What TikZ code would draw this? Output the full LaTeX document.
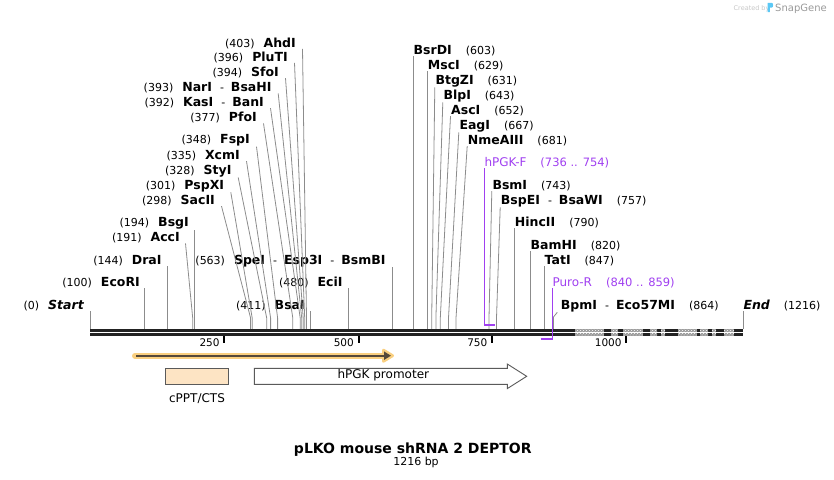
\documentclass[tikz,border=0pt]{standalone}
\usepackage{fontspec}
\setmainfont{DejaVu Sans}
\usetikzlibrary{arrows.meta, patterns, positioning}

\definecolor{leadgray}{HTML}{8C8C8C}
\definecolor{primer}{HTML}{A040F0}
\definecolor{seqblack}{HTML}{222222}
\definecolor{hatchgray}{HTML}{9A9A9A}
\definecolor{orfglow}{HTML}{F9CF80}
\definecolor{orfdark}{HTML}{54483A}
\definecolor{cpptfill}{HTML}{FDE4C4}
\definecolor{featedge}{HTML}{5A5A5A}
\definecolor{sglogo}{HTML}{5BC8F5}

\newcommand{\enzfont}{\fontsize{12.5}{14}\selectfont\bfseries}
\newcommand{\posfont}{\fontsize{11}{13}\selectfont\mdseries}
\newcommand{\cutl}[2]{{\posfont(#1)}\hspace{9pt}{\enzfont #2}}
\newcommand{\cutr}[2]{{\enzfont #1}\hspace{14pt}{\posfont(#2)}}
\newcommand{\andcut}{\hspace{8pt}{\posfont -}\hspace{7pt}}

\begin{document}
\begin{tikzpicture}[x=1pt, y=-1pt,
    cutL/.style={anchor=base east, inner sep=0pt},
    cutR/.style={anchor=base west, inner sep=0pt},
    lead/.style={draw=leadgray, line width=0.8pt},
    primlead/.style={draw=primer, line width=1pt},
    primbar/.style={draw=primer, line width=2pt},
    seq/.style={draw=seqblack, line width=2.6pt},
    tick/.style={draw=black, line width=2pt},
    ticklbl/.style={anchor=base east, inner sep=0pt, font=\fontsize{10.5}{12}\selectfont},
    feat/.style={draw=featedge, line width=0.9pt}]
    \useasboundingbox (0,0) rectangle (834,479);

    % cut sites on the sequence
    \coordinate (sStart) at (90.7,329);
    \coordinate (sEcoRI) at (144.4,329);
    \coordinate (sDraI)  at (167.3,329);
    \coordinate (sAccI)  at (192.7,329);
    \coordinate (sBsgI)  at (194.3,329);
    \coordinate (sSacII) at (250.6,329);
    \coordinate (sPspXI) at (252.2,329);
    \coordinate (sStyI)  at (266.7,329);
    \coordinate (sXcmI)  at (270.6,329);
    \coordinate (sFspI)  at (277.6,329);
    \coordinate (sPfoI)  at (292.8,329);
    \coordinate (sKasI)  at (300.2,329);
    \coordinate (sNarI)  at (301.7,329);
    \coordinate (sSfoI)  at (303.2,329);
    \coordinate (sPluTI) at (304.7,329);
    \coordinate (sAhdI)  at (306.5,329);
    \coordinate (sBsaI)  at (310.5,329);
    \coordinate (sEciI)  at (348,329);
    \coordinate (sSpeI)  at (392.5,329);
    \coordinate (sBsrDI) at (413.5,329);
    \coordinate (sMscI)  at (427.7,329);
    \coordinate (sBtgZI) at (431.7,329);
    \coordinate (sBlpI)  at (435.9,329);
    \coordinate (sAscI)  at (440.3,329);
    \coordinate (sEagI)  at (448.5,329);
    \coordinate (sNmeAIII) at (456,329);
    \coordinate (sBsmI)  at (489,329);
    \coordinate (sBspEI) at (496.5,329);
    \coordinate (sHincII) at (514.7,329);
    \coordinate (sBamHI) at (530.5,329);
    \coordinate (sTatI)  at (544.5,329);
    \coordinate (sBpmI)  at (553.5,329);
    \coordinate (sEnd)   at (743.3,329);

    % enzymes left of their sites
    \node[cutL] (AhdI)  at (296,47.2)    {\cutl{403}{AhdI}};
    \node[cutL] (PluTI) at (288,61.2)    {\cutl{396}{PluTI}};
    \node[cutL] (SfoI)  at (279,76.5)    {\cutl{394}{SfoI}};
    \node[cutL] (NarI)  at (271.7,91.8)  {\cutl{393}{NarI\andcut BsaHI}};
    \node[cutL] (KasI)  at (264,106.5)   {\cutl{392}{KasI\andcut BanI}};
    \node[cutL] (PfoI)  at (257,121.8)   {\cutl{377}{PfoI}};
    \node[cutL] (FspI)  at (250,143.8)   {\cutl{348}{FspI}};
    \node[cutL] (XcmI)  at (240,159.5)   {\cutl{335}{XcmI}};
    \node[cutL] (StyI)  at (231.7,174.5) {\cutl{328}{StyI}};
    \node[cutL] (PspXI) at (224.3,189.5) {\cutl{301}{PspXI}};
    \node[cutL] (SacII) at (215,204.5)   {\cutl{298}{SacII}};
    \node[cutL] (BsgI)  at (189,226.8)   {\cutl{194}{BsgI}};
    \node[cutL] (AccI)  at (180,241.8)   {\cutl{191}{AccI}};
    \node[cutL] (DraI)  at (161.7,264.5) {\cutl{144}{DraI}};
    \node[cutL] (SpeI)  at (385.7,264.5) {\cutl{563}{SpeI\andcut Esp3I\andcut BsmBI}};
    \node[cutL] (EcoRI) at (140,286.8)   {\cutl{100}{EcoRI}};
    \node[cutL] (EciI)  at (342.7,286.8) {\cutl{480}{EciI}};
    \node[cutL] (Start) at (84,309.5)    {\cutl{0}{\itshape Start}};
    \node[cutL] (BsaI)  at (305,309.5)   {\cutl{411}{BsaI}};

    % enzymes right of their sites
    \node[cutR] (BsrDI)   at (413.5,54.5)  {\cutr{BsrDI}{603}};
    \node[cutR] (MscI)    at (427.7,69.2)  {\cutr{MscI}{629}};
    \node[cutR] (BtgZI)   at (435.3,84.5)  {\cutr{BtgZI}{631}};
    \node[cutR] (BlpI)    at (443.3,99.5)  {\cutr{BlpI}{643}};
    \node[cutR] (AscI)    at (451,114.5)   {\cutr{AscI}{652}};
    \node[cutR] (EagI)    at (459.3,129.5) {\cutr{EagI}{667}};
    \node[cutR] (NmeAIII) at (467.7,144.5) {\cutr{NmeAIII}{681}};
    \node[cutR] (BsmI)    at (492.3,189.5) {\cutr{BsmI}{743}};
    \node[cutR] (BspEI)   at (500.7,204.5) {\cutr{BspEI\andcut BsaWI}{757}};
    \node[cutR] (HincII)  at (514.7,226.8) {\cutr{HincII}{790}};
    \node[cutR] (BamHI)   at (530.5,249.2) {\cutr{BamHI}{820}};
    \node[cutR] (TatI)    at (544.5,264.5) {\cutr{TatI}{847}};
    \node[cutR] (BpmI)    at (560.7,309.5) {\cutr{BpmI\andcut Eco57MI}{864}};
    \node[cutR] (End)     at (743.3,309.5) {\cutr{\itshape End}{1216}};

    % leaders
    \draw[lead] ([xshift=6.5pt]AhdI.south east)  -- ([yshift=11pt]sAhdI)  -- (sAhdI);
    \draw[lead] ([xshift=6.5pt]PluTI.south east) -- ([yshift=11pt]sPluTI) -- (sPluTI);
    \draw[lead] ([xshift=6.5pt]SfoI.south east)  -- ([yshift=11pt]sSfoI)  -- (sSfoI);
    \draw[lead] ([xshift=6.5pt]NarI.south east)  -- ([yshift=11pt]sNarI)  -- (sNarI);
    \draw[lead] ([xshift=6.5pt]KasI.south east)  -- ([yshift=11pt]sKasI)  -- (sKasI);
    \draw[lead] ([xshift=6.5pt]PfoI.south east)  -- ([yshift=11pt]sPfoI)  -- (sPfoI);
    \draw[lead] ([xshift=6.5pt]FspI.south east)  -- ([yshift=11pt]sFspI)  -- (sFspI);
    \draw[lead] ([xshift=6.5pt]XcmI.south east)  -- ([yshift=11pt]sXcmI)  -- (sXcmI);
    \draw[lead] ([xshift=6.5pt]StyI.south east)  -- ([yshift=11pt]sStyI)  -- (sStyI);
    \draw[lead] ([xshift=6.5pt]PspXI.south east) -- ([yshift=11pt]sPspXI) -- (sPspXI);
    \draw[lead] ([xshift=6.5pt]SacII.south east) -- ([yshift=11pt]sSacII) -- (sSacII);
    \draw[lead] ([xshift=5.5pt]AccI.south east)  -- ([yshift=11pt]sAccI)  -- (sAccI);
    \draw[lead] (sBsgI)  -- (sBsgI |- BsgI.south);
    \draw[lead] (sDraI)  -- (sDraI |- DraI.south);
    \draw[lead] (sSpeI)  -- (sSpeI |- SpeI.south);
    \draw[lead] (sEcoRI) -- (sEcoRI |- EcoRI.south);
    \draw[lead] (sEciI)  -- (sEciI |- EciI.south);
    \draw[lead] (sStart) -- (sStart |- Start.south);
    \draw[lead] (sBsaI)  -- (sBsaI |- BsaI.south);

    \draw[lead] (sBsrDI)  -- (sBsrDI |- BsrDI.south);
    \draw[lead] (sMscI)   -- (sMscI |- MscI.south);
    \draw[lead] ([xshift=-0.5pt]BtgZI.south west)   -- ([yshift=11pt]sBtgZI)   -- (sBtgZI);
    \draw[lead] ([xshift=-0.5pt]BlpI.south west)    -- ([yshift=11pt]sBlpI)    -- (sBlpI);
    \draw[lead] ([xshift=-0.5pt]AscI.south west)    -- ([yshift=11pt]sAscI)    -- (sAscI);
    \draw[lead] ([xshift=-0.5pt]EagI.south west)    -- ([yshift=11pt]sEagI)    -- (sEagI);
    \draw[lead] ([xshift=-0.5pt]NmeAIII.south west) -- ([yshift=11pt]sNmeAIII) -- (sNmeAIII);
    \draw[lead] ([xshift=-0.5pt]BsmI.south west)    -- ([yshift=11pt]sBsmI)    -- (sBsmI);
    \draw[lead] ([xshift=-0.5pt]BspEI.south west)   -- ([yshift=11pt]sBspEI)   -- (sBspEI);
    \draw[lead] (sHincII) -- (sHincII |- HincII.south);
    \draw[lead] (sBamHI)  -- (sBamHI |- BamHI.south);
    \draw[lead] (sTatI)   -- (sTatI |- TatI.south);
    \draw[lead] ([xshift=-3.4pt]BpmI.south west) -- ([yshift=12pt]sBpmI) -- (sBpmI);
    \draw[lead] (sEnd)    -- (sEnd |- End.south);

    % primers
    \node[cutR, text=primer] (hPGKF) at (484.3,166.5)
        {{\fontsize{12}{14}\selectfont hPGK-F}\hspace{14pt}{\fontsize{11.5}{13}\selectfont(736 .. 754)}};
    \node[cutR, text=primer] (PuroR) at (552.3,286.2)
        {{\fontsize{12}{14}\selectfont Puro-R}\hspace{14pt}{\fontsize{11.5}{13}\selectfont(840 .. 859)}};
    \coordinate (pF1) at (484.3,325);
    \coordinate (pF2) at (494.8,325);
    \coordinate (pR1) at (552.3,340);
    \coordinate (pR2) at (540.5,339);
    \draw[primlead] (hPGKF.south west) -- (pF1);
    \draw[primbar] ([xshift=-0.5pt]pF1) -- (pF2);
    \draw[primbar] (pR2) -- (pR1 |- pR2);

    % sequence
    \coordinate (seqL1) at (90,330.5);
    \coordinate (seqR1) at (743.3,330.5);
    \coordinate (seqL2) at (90,334.6);
    \coordinate (seqR2) at (743.3,334.6);
    \draw[seq] (seqL1) -- (seqR1);
    \draw[seq] (seqL2) -- (seqR2);
    \foreach \a/\b in {575/604, 611/618, 623/643, 650/657, 661/665, 678/697, 700/708, 712/716, 724/734} {
        \fill[hatchgray] (\a,329.2) rectangle (\b,331.8);
        \fill[pattern=crosshatch dots, pattern color=white] (\a,329.2) rectangle (\b,331.8);
        \fill[hatchgray] (\a,333.3) rectangle (\b,335.9);
        \fill[pattern=crosshatch dots, pattern color=white] (\a,333.3) rectangle (\b,335.9);
    }
    \draw[primlead] (PuroR.south west) -- (pR1);

    % ruler
    \draw[tick] (224.3,336) -- (224.3,342.7);
    \draw[tick] (358.5,336) -- (358.5,342.7);
    \draw[tick] (492,336) -- (492,342.7);
    \draw[tick] (626.3,336) -- (626.3,342.7);
    \node[ticklbl] (t250)  at (219.8,346.5) {250};
    \node[ticklbl] (t500)  at (354,346.5)   {500};
    \node[ticklbl] (t750)  at (487.5,346.5) {750};
    \node[ticklbl] (t1000) at (621.8,346.5) {1000};

    % features
    \coordinate (orfA) at (135,355.7);
    \coordinate (orfB) at (392.5,355.7);
    \draw[orfglow, line width=6pt, line cap=round] (orfA) -- ([xshift=-8pt]orfB);
    \fill[orfglow, draw=orfglow, line width=3pt, line join=round]
        ([xshift=-9pt, yshift=5.5pt]orfB) -- (orfB) -- ([xshift=-9pt, yshift=-5.5pt]orfB) -- cycle;
    \draw[orfdark, line width=2pt, -{Triangle[length=7pt, width=8pt]}] ([xshift=1pt]orfA) -- ([xshift=-1.5pt]orfB);

    \node[feat, fill=cpptfill, minimum width=63.4pt, minimum height=16pt, inner sep=0pt] (cppt) at (197,376.3) {};
    \node[anchor=base, inner sep=0pt, font=\fontsize{12}{14}\selectfont] (cpptlbl) at (197,402.5) {cPPT/CTS};

    \draw[feat, fill=white] (254.3,368.3) -- (507.3,368.3) -- (507.3,364) -- (526.7,376.3)
        -- (507.3,388.6) -- (507.3,384.3) -- (254.3,384.3) -- cycle;
    \node[anchor=base, inner sep=0pt, font=\fontsize{12}{14}\selectfont] (hpgk) at (383.3,378.5) {hPGK promoter};

    % title
    \node[anchor=base, inner sep=0pt, font=\fontsize{14}{16}\selectfont\bfseries] (title) at (412.8,453.5) {pLKO mouse shRNA 2 DEPTOR};
    \node[anchor=base, inner sep=0pt, font=\fontsize{11}{13}\selectfont] (len) at (416,465.5) {1216 bp};

    % credit
    \node[anchor=base west, inner sep=0pt, text=black!22, font=\fontsize{6.5}{8}\selectfont] (made) at (733.5,10) {Created by};
    \fill[sglogo] (767.6,12) -- (767.6,2.8) -- (771.6,2.8) .. controls (773.6,2.8) and (773.6,7.6) .. (771.6,7.6)
        -- (769.8,7.6) -- (769.8,12) -- cycle;
    \node[anchor=base west, inner sep=0pt, text=black!40, font=\fontsize{10}{12}\selectfont] (sg) at (775,11) {SnapGene};
\end{tikzpicture}
\end{document}
